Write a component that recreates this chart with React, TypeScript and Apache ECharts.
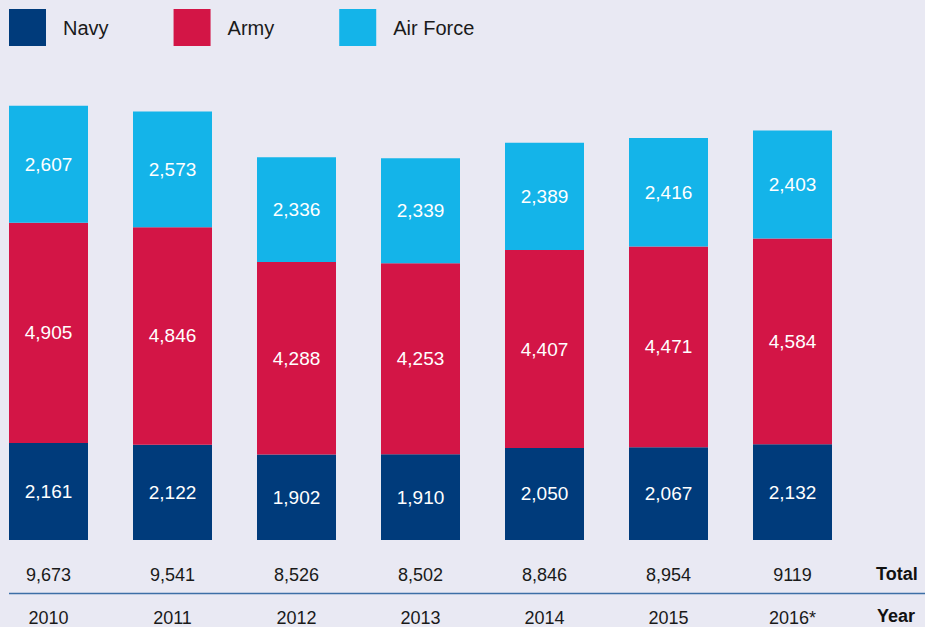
import React, { useEffect, useRef } from "react";
import * as echarts from "echarts";

const years = ["2010", "2011", "2012", "2013", "2014", "2015", "2016*"];
const navy = [2161, 2122, 1902, 1910, 2050, 2067, 2132];
const army = [4905, 4846, 4288, 4253, 4407, 4471, 4584];
const airForce = [2607, 2573, 2336, 2339, 2389, 2416, 2403];
const totals = ["9,673", "9,541", "8,526", "8,502", "8,846", "8,954", "9119"];

const BG = "#e9e9f3";
const FONT = "'Liberation Sans', Arial, Helvetica, sans-serif";

export default function App() {
  const ref = useRef<HTMLDivElement>(null);
  useEffect(() => {
    if (!ref.current) return;
    const chart = echarts.init(ref.current, undefined, { renderer: "svg" });
    const fmt = (p: any) => Number(p.value).toLocaleString("en-US");
    const label = {
      show: true,
      position: "inside",
      color: "#ffffff",
      fontSize: 19,
      fontFamily: FONT,
      formatter: fmt,
    };
    const mk = (name: string, data: number[], color: string) => ({
      name,
      type: "bar",
      stack: "total",
      data,
      barWidth: 79,
      clip: false,
      itemStyle: { color },
      label,
      emphasis: { disabled: true },
    });
    chart.setOption({
      animation: false,
      backgroundColor: BG,
      textStyle: { fontFamily: FONT },
      legend: {
        left: 9,
        top: 9,
        padding: 0,
        itemWidth: 37,
        itemHeight: 37,
        itemGap: 65,
        icon: "rect",
        selectedMode: false,
        textStyle: { fontSize: 20, color: "#1a1a1a", fontFamily: FONT, padding: [0, 0, 0, 12] },
        data: ["Navy", "Army", "Air Force"],
      },
      grid: { left: 48.5, right: 132.5, top: 91, bottom: 87 },
      xAxis: [
        {
          type: "category",
          data: years,
          boundaryGap: false,
          axisLine: { show: false },
          axisTick: { show: false },
          axisLabel: { margin: 69, fontSize: 18, color: "#1a1a1a", fontFamily: FONT, interval: 0 },
        },
        {
          type: "category",
          data: totals,
          position: "bottom",
          boundaryGap: false,
          axisLine: { show: false },
          axisTick: { show: false },
          axisLabel: { margin: 26, fontSize: 18, color: "#1a1a1a", fontFamily: FONT, interval: 0 },
        },
      ],
      yAxis: { type: "value", min: 0, max: 10000, show: false, splitLine: { show: false } },
      series: [
        mk("Navy", navy, "#003b7b"),
        mk("Army", army, "#d31546"),
        mk("Air Force", airForce, "#14b4e9"),
      ],
      graphic: [
        {
          type: "line",
          shape: { x1: 9, y1: 593.5, x2: 925, y2: 593.5 },
          style: { stroke: "#3d6fa6", lineWidth: 1.5 },
        },
        {
          type: "text",
          left: 876,
          top: 565,
          style: { text: "Total", fontSize: 18, fontWeight: "bold", fill: "#111", fontFamily: FONT },
        },
        {
          type: "text",
          left: 877,
          top: 607,
          style: { text: "Year", fontSize: 18, fontWeight: "bold", fill: "#111", fontFamily: FONT },
        },
      ],
    });
    return () => chart.dispose();
  }, []);
  return (
    <div
      ref={ref}
      style={{ position: "fixed", left: 0, top: 0, width: 925, height: 627 }}
    />
  );
}
